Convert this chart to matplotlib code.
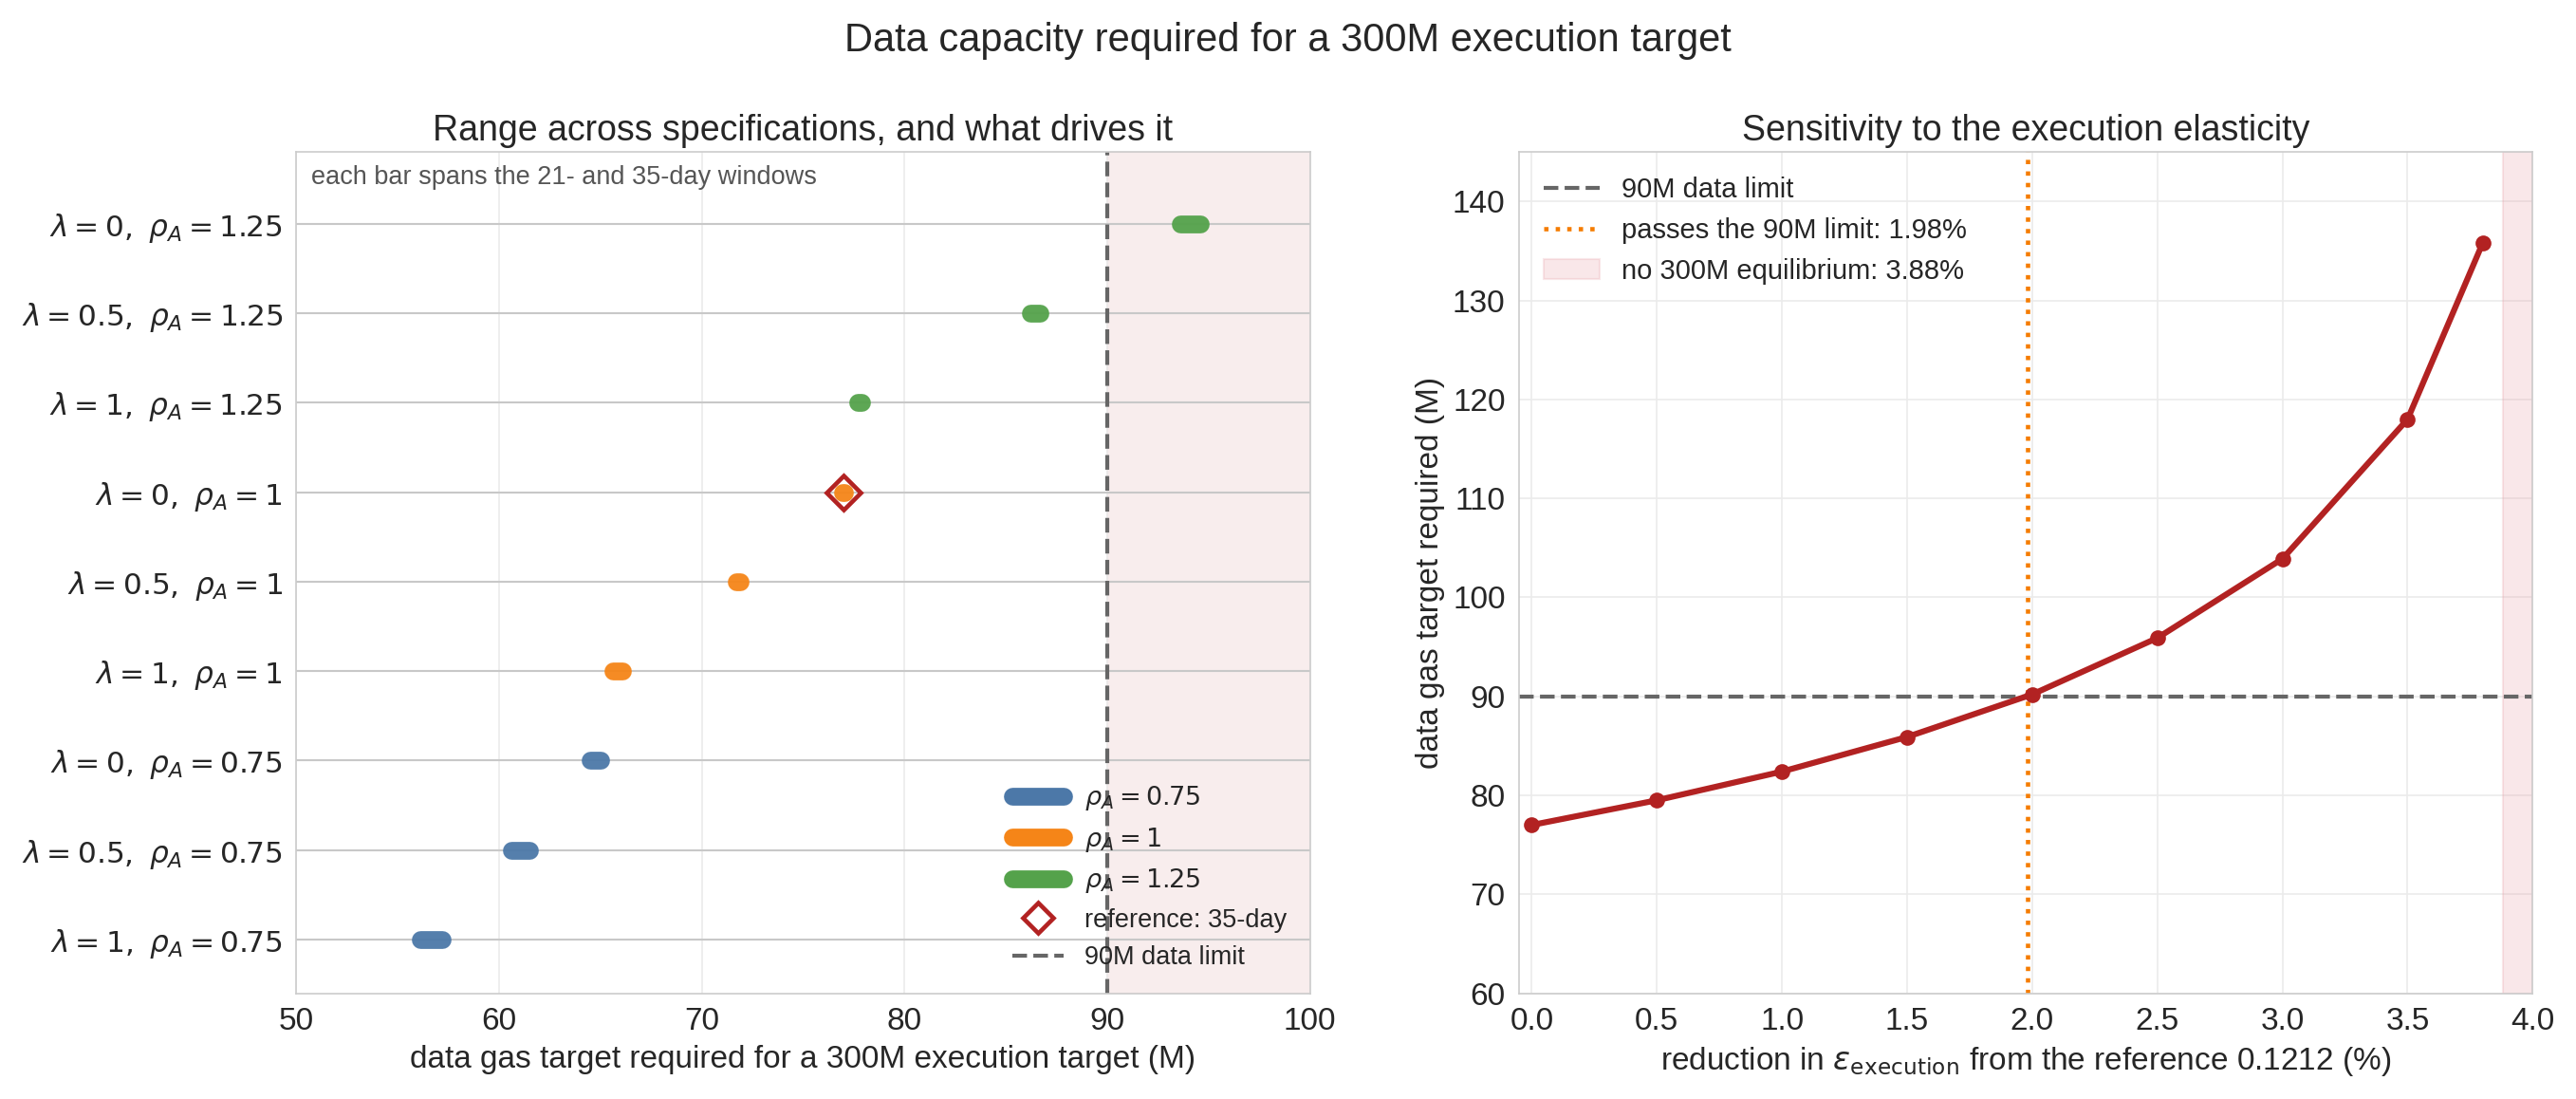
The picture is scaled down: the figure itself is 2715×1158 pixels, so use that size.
import numpy as np
import matplotlib.pyplot as plt
import seaborn as sns

sns.set_style("whitegrid")
plt.rcParams['font.family'] = ['Liberation Sans', 'DejaVu Sans']
plt.rcParams['grid.color'] = '#ebebeb'

labels = [r"$\lambda=1,\ \rho_A=0.75$", r"$\lambda=0.5,\ \rho_A=0.75$", r"$\lambda=0,\ \rho_A=0.75$",
          r"$\lambda=1,\ \rho_A=1$", r"$\lambda=0.5,\ \rho_A=1$", r"$\lambda=0,\ \rho_A=1$",
          r"$\lambda=1,\ \rho_A=1.25$", r"$\lambda=0.5,\ \rho_A=1.25$", r"$\lambda=0,\ \rho_A=1.25$"]
rho = [0.75, 0.75, 0.75, 1, 1, 1, 1.25, 1.25, 1.25]
lo_21 = [56.1, 60.6, 64.5, 65.6, 71.7, 76.95, 77.7, 86.2, 93.6]
hi_35 = [57.2, 61.5, 65.0, 66.1, 71.9, 77.05, 77.9, 86.7, 94.6]
ref_35 = 77.0

red = [0.0, 0.5, 1.0, 1.5, 2.0, 2.5, 3.0, 3.5, 3.8]
need = [77.0, 79.5, 82.4, 85.9, 90.2, 95.9, 103.9, 118.0, 135.8]
cross = 1.98
no_eq = 3.88

colors = {0.75: "#4c78a8", 1: "#f58518", 1.25: "#54a24b"}

fig, (ax1, ax2) = plt.subplots(1, 2, figsize=(18.1, 7.72), dpi=150)
fig.suptitle("Data capacity required for a 300M execution target", fontsize=20)

y = np.arange(len(labels))
for i in y:
    ax1.axhline(i, color="#c8c8c8", lw=1, zorder=1)
    ax1.plot([lo_21[i], hi_35[i]], [i, i], color=colors[rho[i]], lw=9,
             solid_capstyle="round", alpha=0.95, zorder=3)
ax1.plot(ref_35, 5, marker="D", ms=12, mfc="none", mec="#b22222", mew=2.2, ls="none", zorder=4)
ax1.axvline(90, color="#666666", ls="--", lw=2, zorder=2)
ax1.axvspan(90, 100, color="#b22222", alpha=0.08, zorder=0)
ax1.set_xlim(50, 100)
ax1.set_ylim(-0.6, 8.8)
ax1.set_yticks(y)
ax1.set_yticklabels(labels, fontsize=15)
ax1.grid(axis="y", visible=False)
ax1.tick_params(axis="x", labelsize=16)
ax1.set_xlabel("data gas target required for a 300M execution target (M)", fontsize=16)
ax1.set_title("Range across specifications, and what drives it", fontsize=18)
ax1.text(0.015, 0.985, "each bar spans the 21- and 35-day windows", transform=ax1.transAxes,
         va="top", fontsize=13, color="#555555")
handles = [plt.Line2D([], [], color=colors[r], lw=9, solid_capstyle="round") for r in (0.75, 1, 1.25)]
handles += [plt.Line2D([], [], marker="D", ms=11, mfc="none", mec="#b22222", mew=2.2, ls="none"),
            plt.Line2D([], [], color="#666666", ls="--", lw=2)]
ax1.legend(handles, [r"$\rho_A = 0.75$", r"$\rho_A = 1$", r"$\rho_A = 1.25$",
                     "reference: 35-day", "90M data limit"], loc="lower right", fontsize=13, frameon=False)

ax2.axvspan(no_eq, 4.0, color="#e8a0a8", alpha=0.25, label=f"no 300M equilibrium: {no_eq:.2f}%")
ax2.axhline(90, color="#666666", ls="--", lw=2, label="90M data limit")
ax2.axvline(cross, color="#f57c00", ls=":", lw=2.2, label=f"passes the 90M limit: {cross:.2f}%")
ax2.plot(red, need, color="#b22222", lw=3, marker="o", ms=7)
ax2.set_xlim(-0.05, 4.0)
ax2.set_ylim(60, 145)
ax2.tick_params(labelsize=16)
ax2.set_xlabel(r"reduction in $\varepsilon_{\mathrm{execution}}$ from the reference 0.1212 (%)", fontsize=16)
ax2.set_ylabel("data gas target required (M)", fontsize=16)
ax2.set_title("Sensitivity to the execution elasticity", fontsize=18)
h, l = ax2.get_legend_handles_labels()
ax2.legend([h[1], h[2], h[0]], [l[1], l[2], l[0]], loc="upper left", fontsize=14, frameon=False)

for ax in (ax1, ax2):
    for s in ax.spines.values():
        s.set_color("#cccccc")

fig.tight_layout(rect=[0, 0, 1, 0.97], w_pad=4)
fig.savefig("out.png")
